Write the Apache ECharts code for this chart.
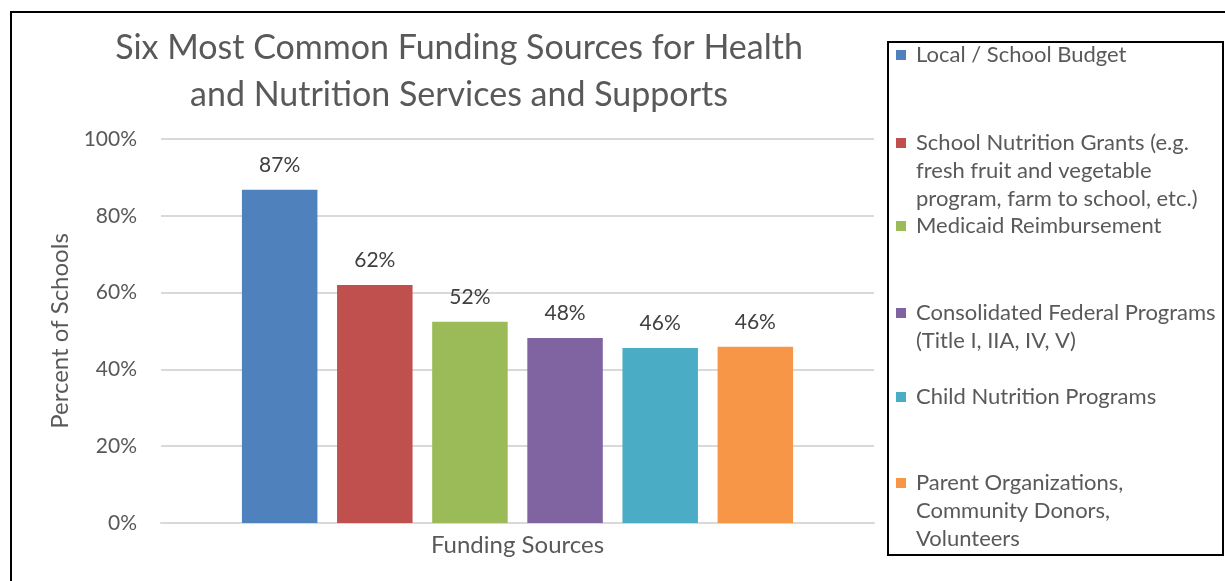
<!DOCTYPE html>
<html>
<head>
<meta charset="utf-8">
<script src="https://cdn.jsdelivr.net/npm/echarts@6/dist/echarts.min.js"></script>
<style>
  html, body { margin: 0; padding: 0; background: #fff; }
  #chart { width: 1225px; height: 581px; }
</style>
</head>
<body>
<div id="chart"></div>
<script>
var categories = ['Funding Sources'];
var seriesNames = [
  'Local / School Budget',
  'School Nutrition Grants (e.g.\nfresh fruit and vegetable\nprogram, farm to school, etc.)',
  'Medicaid Reimbursement',
  'Consolidated Federal Programs\n(Title I, IIA, IV, V)',
  'Child Nutrition Programs',
  'Parent Organizations,\nCommunity Donors,\nVolunteers'
];
var seriesValues = [86.8, 62.0, 52.4, 48.2, 45.6, 45.9];
var colors = ['#4F81BD', '#C0504D', '#9BBB59', '#8064A2', '#4BACC6', '#F79646'];
var yTicks = [0, 20, 40, 60, 80, 100];

var font = 'Lato';
var lineH = 28;
// first-line centre of each legend entry
var legendRows = [55, 143, 226, 313, 397, 483];

var chart = echarts.init(document.getElementById('chart'));

// icon sits on the middle of the text block, so pad with blank lines above
// to keep it level with the first line
var legends = seriesNames.map(function (name, i) {
  var n = name.split('\n').length;
  return {
    data: [name],
    orient: 'vertical',
    left: 896,
    top: legendRows[i] - (2 * n - 1) * lineH / 2,
    padding: 0,
    icon: 'rect',
    itemWidth: 10,
    itemHeight: 10,
    selectedMode: false,
    formatter: function (nm) {
      return new Array(n).join('\n') + nm;
    },
    textStyle: {
      fontFamily: font,
      fontSize: 22,
      color: '#595959',
      lineHeight: lineH,
      padding: [0, 0, 0, 5]
    }
  };
});

var series = seriesNames.map(function (name, i) {
  return {
    name: name,
    type: 'bar',
    data: [seriesValues[i]],
    barWidth: 75.5,
    barGap: '26%',
    itemStyle: { color: colors[i] },
    label: {
      show: true,
      position: 'top',
      distance: 14,
      fontFamily: font,
      fontSize: 21,
      color: '#404040',
      formatter: function (p) { return Math.round(p.value) + '%'; }
    }
  };
});

var option = {
  backgroundColor: '#fff',
  animation: false,
  title: {
    text: 'Six Most Common Funding Sources for Health\nand Nutrition Services and Supports',
    left: 459,
    top: 25,
    padding: 0,
    textAlign: 'center',
    textStyle: {
      fontFamily: font,
      fontSize: 34,
      fontWeight: 'normal',
      color: '#595959',
      lineHeight: 47
    }
  },
  legend: legends,
  grid: {
    left: 161,
    right: 351,
    top: 139,
    bottom: 58,
    containLabel: false
  },
  xAxis: {
    type: 'category',
    data: categories,
    axisLine: { show: true, lineStyle: { color: '#d9d9d9', width: 2 } },
    axisTick: { show: false },
    axisLabel: {
      fontFamily: font,
      fontSize: 24,
      color: '#595959',
      margin: 10
    }
  },
  yAxis: {
    type: 'value',
    min: yTicks[0],
    max: yTicks[yTicks.length - 1],
    interval: 20,
    name: 'Percent of Schools',
    nameLocation: 'middle',
    nameRotate: 90,
    nameGap: 87,
    nameTextStyle: {
      fontFamily: font,
      fontSize: 24,
      color: '#595959'
    },
    axisLine: { show: false },
    axisTick: { show: false },
    splitLine: { lineStyle: { color: '#d9d9d9', width: 2 } },
    axisLabel: {
      fontFamily: font,
      fontSize: 21,
      color: '#595959',
      margin: 24,
      formatter: '{value}%'
    }
  },
  series: series,
  graphic: [
    {
      type: 'rect',
      shape: { x: 11, y: 12, width: 1400, height: 800 },
      style: { fill: 'none', stroke: '#000', lineWidth: 2 },
      silent: true
    },
    {
      type: 'rect',
      shape: { x: 888, y: 42, width: 335, height: 513 },
      style: { fill: 'none', stroke: '#000', lineWidth: 2 },
      silent: true
    }
  ]
};

chart.setOption(option);
</script>
</body>
</html>
